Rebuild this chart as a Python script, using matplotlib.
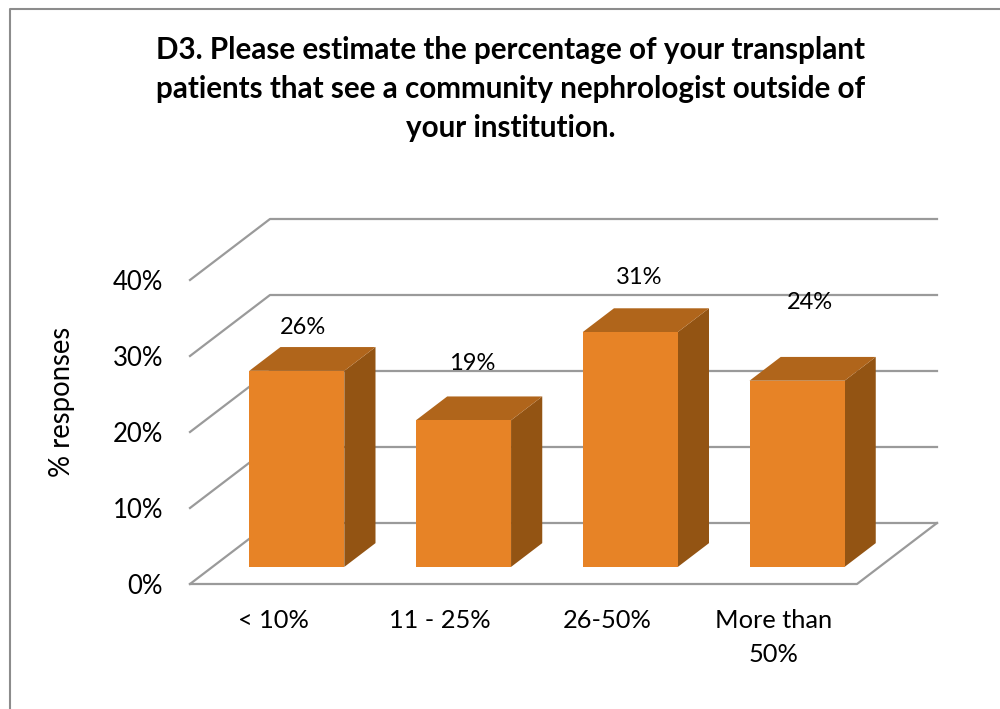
import matplotlib
matplotlib.use('Agg')
import matplotlib.pyplot as plt
from matplotlib.lines import Line2D

plt.rcParams['font.family'] = ['Lato', 'DejaVu Sans']

categories = ['< 10%', '11 - 25%', '26-50%', 'More than\n50%']
bar_values = [25.8, 19.3, 30.9, 24.5]
bar_labels = ['26%', '19%', '31%', '24%']
y_ticks = [0, 10, 20, 30, 40]
y_tick_labels = ['0%', '10%', '20%', '30%', '40%']
title = ('D3. Please estimate the percentage of your transplant\n'
         'patients that see a community nephrologist outside of\n'
         'your institution.')

W, H = 1000, 709
GRID = '#9a9a9a'
FRONT = '#e78326'
TOP = '#b0651b'
SIDE = '#935413'

# oblique projection of the 3d box, depth 0 = front, 1 = back wall
DX = 80 / (667 / 4)
DY = 61 / (304 / 40)


def proj(x, y, d):
    return x + d * DX, y + d * DY


fig = plt.figure(figsize=(W / 100, H / 100), dpi=100, facecolor='white')
ax = fig.add_axes([190 / W, 1 - 584 / H, 667 / W, 304 / H])
ax.set_xlim(0, len(categories))
ax.set_ylim(0, 40)
ax.patch.set_visible(False)
for s in ax.spines.values():
    s.set_visible(False)

# walls and floor
for t in y_ticks:
    x0, y0 = proj(0, t, 0)
    x1, y1 = proj(0, t, 1)
    x2, y2 = proj(len(categories), t, 1)
    ax.plot([x0, x1, x2], [y0, y1, y2], color=GRID, lw=1.6, clip_on=False, zorder=1)
fx, fy = proj(len(categories), 0, 1)
ax.plot([0, len(categories), fx], [0, 0, fy], color=GRID, lw=1.6, clip_on=False, zorder=1)

# bars
bar_w = 0.57
shift = 0.006
d0 = 0.28
d1 = 0.67
# nudges for the data labels, in points (they sit unevenly in the original)
label_nudge = [(5.5, 31), (7, 41), (7, 39.5), (10, 56)]
for i, v in enumerate(bar_values):
    l = i + 0.5 + shift - bar_w / 2
    r = i + 0.5 + shift + bar_w / 2
    front = [proj(l, 0, d0), proj(r, 0, d0), proj(r, v, d0), proj(l, v, d0)]
    top = [proj(l, v, d0), proj(r, v, d0), proj(r, v, d1), proj(l, v, d1)]
    side = [proj(r, 0, d0), proj(r, 0, d1), proj(r, v, d1), proj(r, v, d0)]
    ax.fill(*zip(*side), color=SIDE, lw=0, clip_on=False, zorder=3)
    ax.fill(*zip(*top), color=TOP, lw=0, clip_on=False, zorder=3)
    ax.fill(*zip(*front), color=FRONT, lw=0, clip_on=False, zorder=4)
    cx, cy = proj(i + 0.5, v, d0)
    ax.annotate(bar_labels[i], (cx, cy), xytext=label_nudge[i], textcoords='offset points',
                ha='center', va='center', fontsize=17, color='black', zorder=5,
                annotation_clip=False)

ax.set_xticks([i + 0.5 for i in range(len(categories))])
ax.set_xticklabels(categories, fontsize=18.3, linespacing=1.6)
ax.set_yticks(y_ticks)
ax.set_yticklabels(y_tick_labels, fontsize=18.5)
ax.tick_params(axis='x', length=0, pad=18)
ax.tick_params(axis='y', length=0, pad=19.5)
ax.set_ylabel('% responses', fontsize=19.8)
ax.yaxis.set_label_coords(-115 / 667, 0.6)

fig.text(511 / W, 1 - 89 / H, title, ha='center', va='center', fontsize=21.3,
         fontweight='bold', linespacing=1.48)

# chart frame, only top and left are inside the crop
fig.add_artist(Line2D([10 / W, 10 / W, 1], [0, 1 - 8.5 / H, 1 - 8.5 / H], color='#8c8c8c', lw=1.5))

fig.savefig('out.png', dpi=100)
